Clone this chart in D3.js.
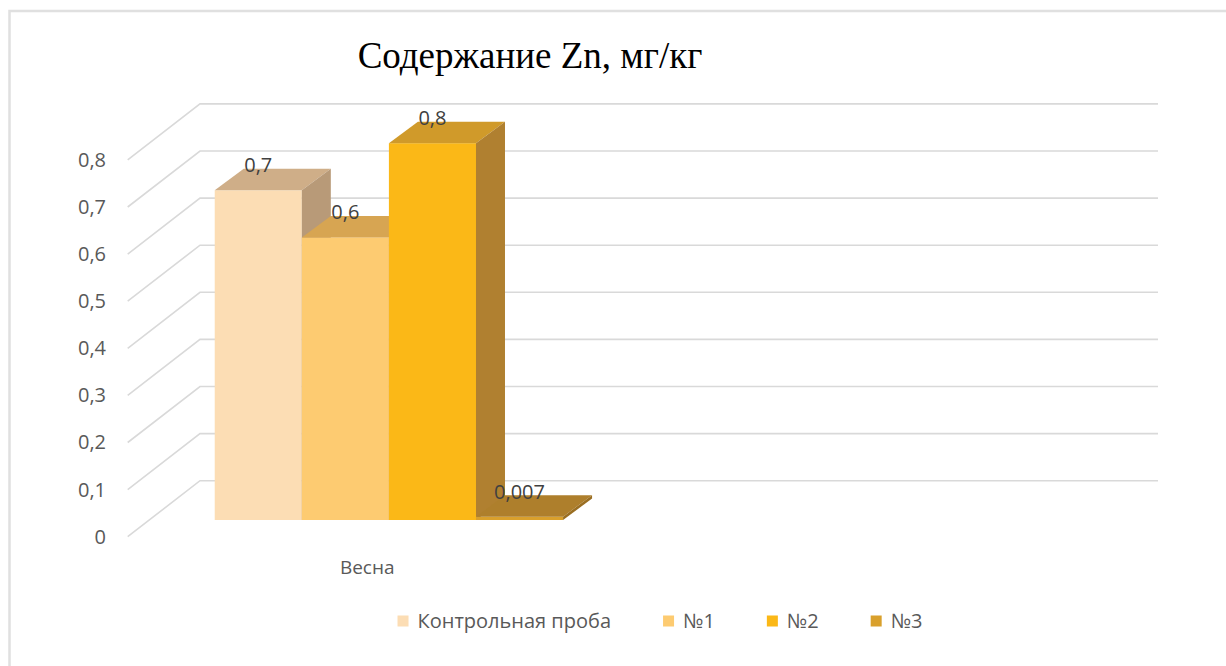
<!DOCTYPE html>
<html>
<head>
<meta charset="utf-8">
<script src="https://cdn.jsdelivr.net/npm/d3@7"></script>
<style>
  body { margin: 0; background: #fff; }
  svg { display: block; }
  .lbl { font-family: "Open Sans", "Noto Sans", sans-serif; }
</style>
</head>
<body>
<div id="chart"></div>
<script>
// data
var categories = ["Весна", ""];
var seriesNames = ["Контрольная проба", "№1", "№2", "№3"];
var control = [0.7];
var n1 = [0.6];
var n2 = [0.8];
var n3 = [0.007];
var seriesValues = [control, n1, n2, n3];
var yTicks = [0, 0.1, 0.2, 0.3, 0.4, 0.5, 0.6, 0.7, 0.8];
var title = "Содержание Zn, мг/кг";

var colors     = ["#FCDDB4", "#FDCB71", "#FBB817", "#D9A02C"];
var topColors  = ["#CFAE88", "#D7A552", "#D09A2A", "#AE7F2C"];
var sideColors = ["#B89A78", "#BC8E45", "#B08030", "#9A6E22"];

var width = 1226, height = 666;

// 3d offsets, relative to the plane where the bar fronts stand
var front = {dx: -21.7, dy: 16.7},
    back  = {dx: 50.6, dy: -39.3},
    depth = {dx: 29, dy: -21.5};

var locale = d3.formatLocale({decimal: ",", thousands: " ", grouping: [3], currency: ["", ""]});
var fmt = locale.format("~g");

var svg = d3.select("#chart").append("svg")
    .attr("width", width)
    .attr("height", height);

// chart frame
svg.append("rect")
    .attr("x", 9.5).attr("y", 11)
    .attr("width", 1240).attr("height", 680)
    .attr("fill", "none")
    .attr("stroke", "#e0e0e0")
    .attr("stroke-width", 2.5);

svg.append("text")
    .attr("x", 530)
    .attr("y", 68)
    .attr("text-anchor", "middle")
    .style("font-family", "'Liberation Serif', 'Times New Roman', serif")
    .style("font-size", "37px")
    .attr("fill", "#000")
    .text(title);

var y = d3.scaleLinear()
    .domain([0, 0.8])
    .range([520, 143.2]);

var x = d3.scaleBand()
    .domain(categories)
    .range([149.4, 1107.4]);

var xs = d3.scaleBand()
    .domain(seriesNames)
    .range([0, x.bandwidth()])
    .paddingOuter(0.75);

var xL = x.range()[0], xR = x.range()[1];

// walls: gridlines
svg.append("g")
    .selectAll("path")
    .data(yTicks)
  .enter().append("path")
    .attr("d", function(d) {
      return "M" + (xL + front.dx) + "," + (y(d) + front.dy) +
             "L" + (xL + back.dx) + "," + (y(d) + back.dy) +
             "L" + (xR + back.dx) + "," + (y(d) + back.dy);
    })
    .attr("fill", "none")
    .attr("stroke", "#d9d9d9")
    .attr("stroke-width", 1.6);

// y labels on the front edge
var yFront = y.copy().range(y.range().map(function(r) { return r + front.dy; }));
var yAxis = d3.axisLeft(yFront)
    .tickValues(yTicks)
    .tickFormat(fmt)
    .tickSize(0)
    .tickPadding(0);

var ya = svg.append("g")
    .attr("transform", "translate(106,0)")
    .call(yAxis);
ya.select(".domain").remove();
ya.selectAll("text")
    .attr("class", "lbl")
    .style("font-size", "20px")
    .attr("fill", "#595959");

// category labels on the front floor edge
svg.append("g")
    .selectAll("text")
    .data(categories)
  .enter().append("text")
    .attr("class", "lbl")
    .attr("x", function(d) { return x(d) + x.bandwidth() / 2 + front.dx; })
    .attr("y", y(0) + front.dy + 31)
    .attr("dy", ".35em")
    .attr("text-anchor", "middle")
    .style("font-size", "19px")
    .attr("fill", "#595959")
    .text(function(d) { return d; });

// bars
var bars = [];
categories.forEach(function(c, ci) {
  seriesNames.forEach(function(s, si) {
    var v = seriesValues[si][ci];
    if (v == null) return;
    bars.push({cat: c, name: s, i: si, value: v});
  });
});

var bw = xs.bandwidth();

var bar = svg.append("g")
    .selectAll("g")
    .data(bars)
  .enter().append("g");

bar.append("rect")
    .attr("x", function(d) { return x(d.cat) + xs(d.name); })
    .attr("y", function(d) { return y(d.value); })
    .attr("width", bw)
    .attr("height", function(d) { return y(0) - y(d.value); })
    .attr("fill", function(d) { return colors[d.i]; });

bar.append("path")
    .attr("d", function(d) {
      var x0 = x(d.cat) + xs(d.name), y1 = y(d.value);
      return "M" + x0 + "," + y1 +
             "L" + (x0 + depth.dx) + "," + (y1 + depth.dy) +
             "L" + (x0 + bw + depth.dx) + "," + (y1 + depth.dy) +
             "L" + (x0 + bw) + "," + y1 + "Z";
    })
    .attr("fill", function(d) { return topColors[d.i]; });

bar.append("path")
    .attr("d", function(d) {
      var x1 = x(d.cat) + xs(d.name) + bw, y1 = y(d.value), y0 = y(0);
      return "M" + x1 + "," + y1 +
             "L" + (x1 + depth.dx) + "," + (y1 + depth.dy) +
             "L" + (x1 + depth.dx) + "," + (y0 + depth.dy) +
             "L" + x1 + "," + y0 + "Z";
    })
    .attr("fill", function(d) { return sideColors[d.i]; });

// value labels
svg.append("g")
    .selectAll("text")
    .data(bars)
  .enter().append("text")
    .attr("class", "lbl")
    .attr("x", function(d) { return x(d.cat) + xs(d.name) + bw / 2; })
    .attr("y", function(d) { return y(d.value) - 25; })
    .attr("dy", ".35em")
    .attr("text-anchor", "middle")
    .style("font-size", "20px")
    .attr("fill", "#404040")
    .text(function(d) { return fmt(d.value); });

// legend, laid out in a row and centred
var legend = svg.append("g");
var items = legend.selectAll("g")
    .data(seriesNames)
  .enter().append("g");

items.append("rect")
    .attr("width", 11).attr("height", 11)
    .attr("y", -5.5)
    .attr("fill", function(d, i) { return colors[i]; });

items.append("text")
    .attr("class", "lbl")
    .attr("x", 20)
    .attr("dy", ".35em")
    .style("font-size", "20px")
    .attr("fill", "#595959")
    .text(function(d) { return d; });

var gap = 52, pos = 0;
items.each(function() {
  var w = this.getBBox().width;
  d3.select(this).attr("transform", "translate(" + pos + ",0)");
  pos += w + gap;
});
pos -= gap;
legend.attr("transform", "translate(" + (660 - pos / 2) + ",621)");
</script>
</body>
</html>
